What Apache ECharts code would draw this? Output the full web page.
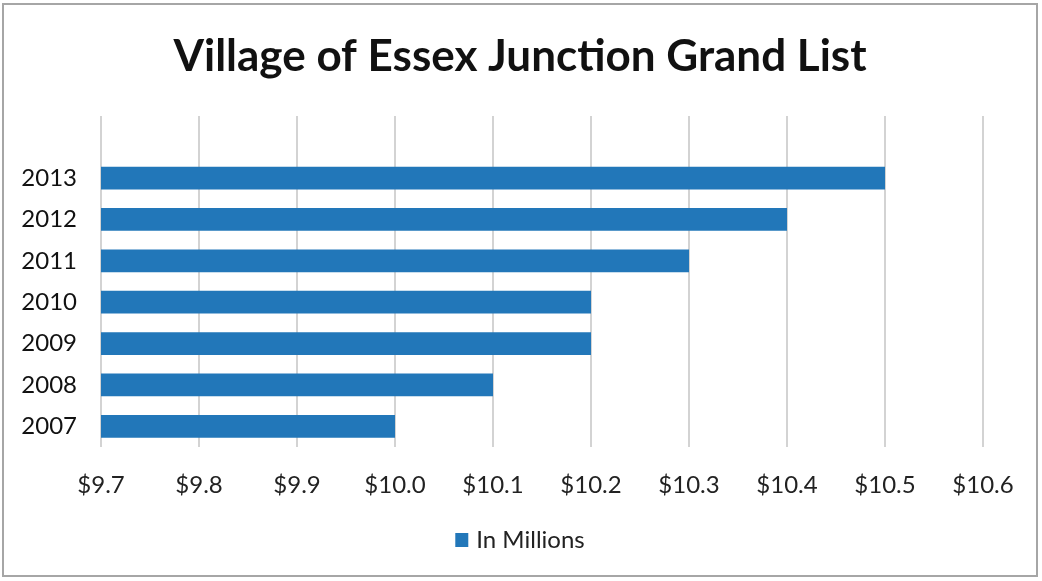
<!DOCTYPE html>
<html>
<head>
<meta charset="utf-8">
<script src="https://cdn.jsdelivr.net/npm/echarts@6/dist/echarts.min.js"></script>
<style>
  html, body { margin: 0; padding: 0; background: #fff; }
  #chart { position: absolute; left: 2px; top: 3px; width: 1036px; height: 574px; border: 2px solid #a6a6a6; box-sizing: border-box; background:#fff; }
</style>
</head>
<body>
<div id="chart"></div>
<script>
const categories = ['2007', '2008', '2009', '2010', '2011', '2012', '2013', ''];
const values = [10.0, 10.1, 10.2, 10.2, 10.3, 10.4, 10.5, null];
const seriesName = 'In Millions';
const titleText = 'Village of Essex Junction Grand List';
const xMin = 9.7, xMax = 10.6, xStep = 0.1;

const chart = echarts.init(document.getElementById('chart'), null, { renderer: 'canvas' });
chart.setOption({
  animation: false,
  title: {
    text: titleText,
    left: 'center',
    top: 25,
    textStyle: { fontFamily: 'Lato', fontWeight: 'bold', fontSize: 44, color: '#111' }
  },
  legend: {
    data: [seriesName],
    bottom: 18,
    left: 'center',
    icon: 'rect',
    itemWidth: 13,
    itemHeight: 14,
    itemGap: 6,
    textStyle: { fontFamily: 'Lato', fontSize: 24, color: '#222', padding: [0, 0, 0, 3] }
  },
  grid: { left: 97, right: 53, top: 111, bottom: 128, containLabel: false },
  xAxis: {
    type: 'value',
    min: xMin,
    max: xMax,
    interval: xStep,
    axisLine: { show: false },
    axisTick: { show: false },
    splitLine: { show: true, lineStyle: { color: '#c4c4c4', width: 1.5 } },
    axisLabel: {
      margin: 26,
      fontFamily: 'Lato',
      fontSize: 24,
      color: '#222',
      formatter: v => '$' + v.toFixed(1)
    }
  },
  yAxis: {
    type: 'category',
    data: categories,
    axisLine: { show: false },
    axisTick: { show: false },
    axisLabel: { margin: 24, fontFamily: 'Lato', fontSize: 24, color: '#111' }
  },
  series: [{
    name: seriesName,
    type: 'bar',
    data: values,
    barCategoryGap: '45%',
    itemStyle: { color: '#2277b9' }
  }]
});
</script>
</body>
</html>
